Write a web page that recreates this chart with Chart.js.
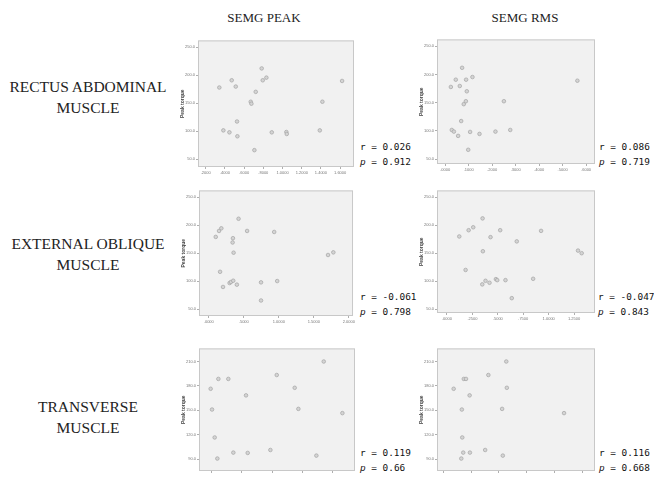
<!DOCTYPE html>
<html>
<head>
<meta charset="utf-8">
<script src="https://cdn.jsdelivr.net/npm/chart.js@4.4.1/dist/chart.umd.min.js"></script>
<style>
  html, body { margin: 0; padding: 0; width: 654px; height: 477px; overflow: hidden; background: #fff; }
  .t { position: absolute; white-space: nowrap; }
  .hdr { font: 13px "Liberation Serif", serif; color: #222; text-align: center; width: 160px; line-height: 16px; }
  .row { font: 15.5px "Liberation Serif", serif; color: #222; text-align: center; width: 176px; line-height: 21px; }
  .stat { font: 9.4px "DejaVu Sans Mono", monospace; color: #111; line-height: 15px; }
  canvas { position: absolute; }
</style>
</head>
<body>
<script>
// ---- data: SEMG amplitude (x) against peak torque (y) for each muscle ----
const rectusPeakX   = [0.342,0.384,0.447,0.471,0.513,0.526,0.530,0.669,0.676,0.707,0.721,0.783,0.794,0.832,0.888,1.040,1.044,1.388,1.415,1.620];
const rectusPeakY   = [177.9,101.6,98.1,190.8,179.6,117.4,91.1,152.6,149.1,66.4,170.2,211.9,190.8,195.5,98.1,98.7,95.2,101.6,152.6,189.6];
const rectusRmsX    = [0.024,0.028,0.037,0.045,0.055,0.062,0.068,0.072,0.079,0.088,0.089,0.092,0.098,0.106,0.116,0.146,0.214,0.250,0.277,0.563];
const rectusRmsY    = [177.9,101.6,98.7,190.8,91.1,179.6,117.4,211.9,147.4,152.6,190.8,170.2,66.4,98.1,195.5,94.6,98.7,152.6,101.6,189.0];
const obliquePeakX  = [0.099,0.146,0.161,0.179,0.203,0.297,0.316,0.340,0.345,0.349,0.354,0.401,0.425,0.547,0.746,0.746,0.934,0.977,1.703,1.779];
const obliquePeakY  = [179.0,189.6,116.9,194.3,89.9,96.9,98.7,169.1,176.7,101.0,150.9,94.0,211.3,189.6,98.1,65.8,187.8,100.4,146.8,151.5];
const obliqueRmsX   = [0.121,0.183,0.213,0.258,0.347,0.350,0.353,0.379,0.418,0.428,0.481,0.494,0.523,0.575,0.637,0.686,0.847,0.925,1.288,1.324];
const obliqueRmsY   = [179.6,119.8,190.8,196.0,94.0,211.9,153.2,100.4,96.9,178.4,103.4,101.6,190.8,101.6,69.4,170.8,104.0,189.6,154.4,149.7];
const transPeakX    = [0.483,0.506,0.550,0.594,0.611,0.776,0.859,1.069,1.097,1.473,1.578,1.876,1.937,2.235,2.357,2.666];
const transPeakY    = [176.5,151.0,116.7,90.8,188.6,188.6,98.1,168.4,97.7,101.3,193.4,177.7,151.8,94.4,210.0,146.6];
const transRmsX     = [0.074,0.129,0.133,0.136,0.143,0.147,0.163,0.189,0.191,0.301,0.324,0.423,0.428,0.453,0.457,0.869];
const transRmsY     = [176.5,90.8,151.0,116.7,98.1,188.6,188.6,168.4,98.1,101.3,193.4,151.8,94.4,210.0,177.7,146.6];

// ---- tick values ----
const torqueTicksWide   = [50, 100, 150, 200, 250];
const torqueTicksNarrow = [90, 120, 150, 180, 210];
const rectusPeakTicks   = [0.2, 0.4, 0.6, 0.8, 1.0, 1.2, 1.4, 1.6];
const rectusRmsTicks    = [0.0, 0.1, 0.2, 0.3, 0.4, 0.5, 0.6];
const obliquePeakTicks  = [0.0, 0.5, 1.0, 1.5, 2.0];
const obliqueRmsTicks   = [0.0, 0.25, 0.5, 0.75, 1.0, 1.25];
const transPeakTicks    = [0.5, 1.0, 1.5, 2.0, 2.5];
const transRmsTicks     = [0.0, 0.2, 0.4, 0.6, 0.8, 1.0];

// ---- correlation results ----
const columnTitles = ['SEMG PEAK', 'SEMG RMS'];
const rowTitles    = [['RECTUS ABDOMINAL', 'MUSCLE'], ['EXTERNAL OBLIQUE', 'MUSCLE'], ['TRANSVERSE', 'MUSCLE']];
const rValues      = ['0.026', '0.086', '-0.061', '-0.047', '0.119', '0.116'];
const pValues      = ['0.912', '0.719', '0.798', '0.843', '0.66', '0.668'];

// ---- layout of the six plots ----
const panels = [
  { box: {l:198, r:354, t:39,  b:167}, x: rectusPeakX,  y: rectusPeakY,  xt: rectusPeakTicks,  xr: [0.12, 1.744],  yt: torqueTicksWide,   yr: [36.4, 261.8], lp: 1 },
  { box: {l:437, r:595, t:38,  b:164}, x: rectusRmsX,   y: rectusRmsY,   xt: rectusRmsTicks,   xr: [-0.035, 0.638], yt: torqueTicksWide,   yr: [41.2, 262.3], lp: 1 },
  { box: {l:199, r:354, t:189, b:316}, x: obliquePeakX, y: obliquePeakY, xt: obliquePeakTicks, xr: [-0.14, 2.06],   yt: torqueTicksWide,   yr: [38.2, 261.8], lp: 1 },
  { box: {l:437, r:595, t:189, b:313}, x: obliqueRmsX,  y: obliqueRmsY,  xt: obliqueRmsTicks,  xr: [-0.098, 1.455], yt: torqueTicksWide,   yr: [42.9, 261.9], lp: 1 },
  { box: {l:199, r:355, t:347, b:471}, x: transPeakX,   y: transPeakY,   xt: transPeakTicks,   xr: [0.29, 2.875],   yt: torqueTicksNarrow, yr: [75.5, 226.1], lp: 5 },
  { box: {l:437, r:595, t:347, b:471}, x: transRmsX,    y: transRmsY,    xt: transRmsTicks,    xr: [-0.046, 1.092], yt: torqueTicksNarrow, yr: [75.5, 226.1], lp: 5 }
];
const statPos = [[360,139],[599,139],[360,289],[598,289],[360,445],[599,445]];

function addText(cls, html, left, top) {
  const d = document.createElement('div');
  d.className = 't ' + cls;
  d.innerHTML = html;
  d.style.left = left + 'px';
  d.style.top = top + 'px';
  document.body.appendChild(d);
}

// headings
addText('hdr', columnTitles[0], 184, 10);
addText('hdr', columnTitles[1], 445, 10);
const rowTops = [76, 233, 396];
rowTitles.forEach((lines, i) => addText('row', lines.join('<br>'), 0, rowTops[i]));
statPos.forEach((p, i) => addText('stat', 'r = ' + rValues[i] + '<br><i>p</i> = ' + pValues[i], p[0], p[1]));

// grey plot frame behind the points
const plotFrame = {
  id: 'plotFrame',
  beforeDraw(chart) {
    const { ctx, chartArea: a } = chart;
    ctx.save();
    ctx.fillStyle = '#f1f1f1';
    ctx.fillRect(a.left, a.top, a.width, a.height);
    ctx.strokeStyle = '#c8c8c8';
    ctx.lineWidth = 1;
    ctx.strokeRect(a.left + 0.5, a.top + 0.5, a.width - 1, a.height - 1);
    ctx.restore();
  }
};

const fmtX = v => v.toFixed(4).replace(/^(-?)0\./, '$1.');
const tickFont = { size: 4, family: 'Arial, "Liberation Sans", sans-serif' };

function makePanel(p) {
  const yW = 20, padT = 2, padR = 2, xH = 14;
  const c = document.createElement('canvas');
  const w = p.box.r - p.box.l + yW + padR;
  const h = p.box.b - p.box.t + padT + xH;
  c.width = w; c.height = h;
  c.style.width = w + 'px'; c.style.height = h + 'px';
  c.style.left = (p.box.l - yW) + 'px';
  c.style.top = (p.box.t - padT) + 'px';
  document.body.appendChild(c);
  new Chart(c, {
    type: 'scatter',
    data: {
      datasets: [{
        data: p.x.map((x, i) => ({ x: x, y: p.y[i] })),
        pointRadius: 1.8,
        backgroundColor: '#d4d4d4',
        borderColor: '#a4a4a4',
        borderWidth: 0.7
      }]
    },
    options: {
      responsive: false,
      animation: false,
      devicePixelRatio: 1,
      layout: { padding: { top: padT, right: padR, left: 0, bottom: 0 }, autoPadding: false },
      plugins: { legend: { display: false }, tooltip: { enabled: false } },
      scales: {
        x: {
          type: 'linear', min: p.xr[0], max: p.xr[1],
          afterBuildTicks: s => { s.ticks = p.xt.map(v => ({ value: v })); },
          afterFit: s => { s.height = xH; },
          border: { display: false },
          grid: { drawOnChartArea: false, tickLength: 2, color: '#9a9a9a', tickWidth: 0.8 },
          ticks: { font: tickFont, color: '#777', padding: p.lp, maxRotation: 0, autoSkip: false, callback: v => fmtX(v) }
        },
        y: {
          type: 'linear', min: p.yr[0], max: p.yr[1],
          afterBuildTicks: s => { s.ticks = p.yt.map(v => ({ value: v })); },
          afterFit: s => { s.width = yW; },
          border: { display: false },
          grid: { drawOnChartArea: false, tickLength: 2, color: '#9a9a9a', tickWidth: 0.8 },
          ticks: { font: tickFont, color: '#777', padding: 1, autoSkip: false, callback: v => v.toFixed(1) },
          title: { display: true, text: 'Peak torque', color: '#444', padding: { top: 2, bottom: 0 },
                   font: { size: 5, weight: 'bold', family: 'Arial, "Liberation Sans", sans-serif' } }
        }
      }
    },
    plugins: [plotFrame]
  });
}

panels.forEach(makePanel);
</script>
</body>
</html>
